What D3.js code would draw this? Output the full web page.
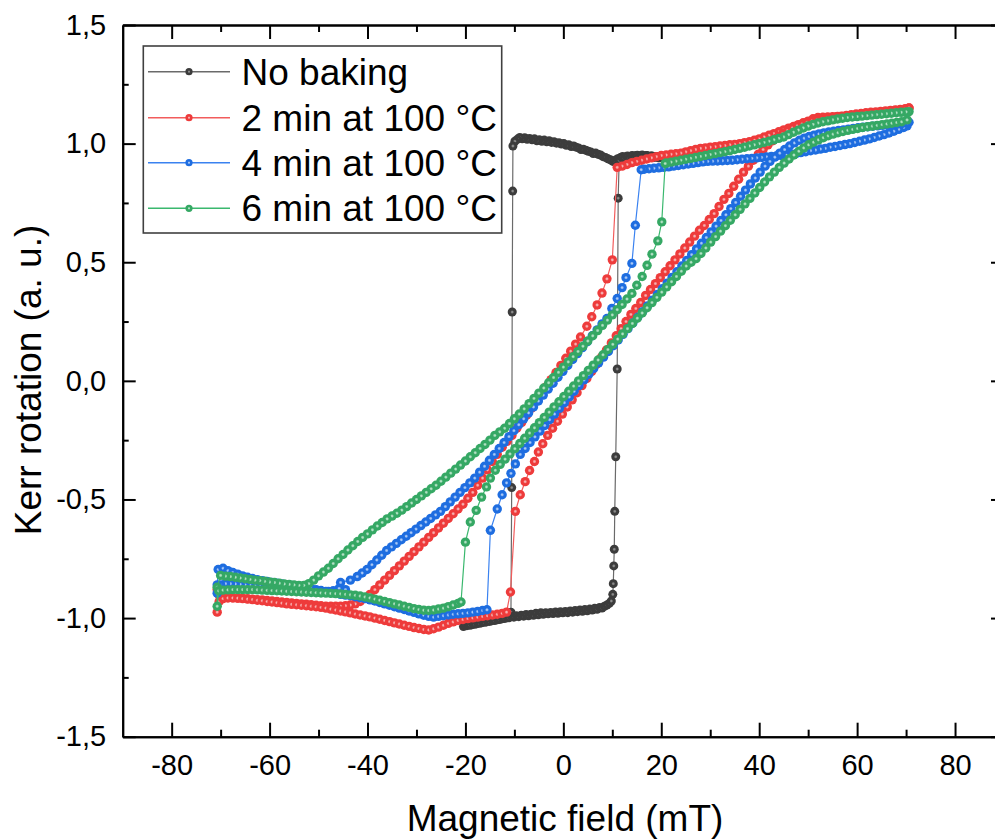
<!DOCTYPE html>
<html><head><meta charset="utf-8">
<script src="https://cdn.jsdelivr.net/npm/d3@7"></script>
<style>
html,body{margin:0;padding:0;background:#fff;}
svg text{font-family:"Liberation Sans",Arial,Helvetica,sans-serif;fill:#000;}
</style></head>
<body>
<svg id="chart" width="995" height="840"></svg>
<script>
const seriesNames = ["No baking", "2 min at 100 °C", "4 min at 100 °C", "6 min at 100 °C"];
const xTicks = [-80, -60, -40, -20, 0, 20, 40, 60, 80];
const xMinor = [-70, -50, -30, -10, 10, 30, 50, 70];
const yTicks = [-1.5, -1.0, -0.5, 0.0, 0.5, 1.0, 1.5];
const yMinor = [-1.25, -0.75, -0.25, 0.25, 0.75, 1.25];

const blackDown = [[19.6,0.94],[19.1,0.946],[18.6,0.942],[18.1,0.948],[17.6,0.944],[17.1,0.95],[16.6,0.946],[16.1,0.952],[15.6,0.947],[15.1,0.951],[14.6,0.946],[14.1,0.95],[13.6,0.944],[13.1,0.948],[12.6,0.942],[12.1,0.946],[11.6,0.94],[11.1,0.936],[10.6,0.93],[10.1,0.925],[9.6,0.932],[9.1,0.936],[8.6,0.942],[8.1,0.945],[7.6,0.952],[7.1,0.955],[6.6,0.96],[6.1,0.958],[5.6,0.965],[5.1,0.968],[4.6,0.972],[4.1,0.976],[3.6,0.975],[3.1,0.982],[2.6,0.985],[2.1,0.99],[1.6,0.988],[1.1,0.995],[0.6,0.993],[0.1,1.0],[-0.4,0.998],[-0.9,1.004],[-1.4,1.002],[-1.9,1.008],[-2.4,1.005],[-2.9,1.012],[-3.4,1.008],[-3.9,1.015],[-4.4,1.01],[-4.9,1.016],[-5.4,1.012],[-5.9,1.02],[-6.4,1.016],[-6.9,1.022],[-7.4,1.018],[-7.9,1.025],[-8.4,1.02],[-8.9,1.026],[-9.4,1.018],[-9.9,1.01],[-10.3,0.99],[-10.35,0.8],[-10.45,0.29],[-10.55,-0.45],[-10.7,-0.975],[-11.2,-0.995],[-11.7,-1.0],[-12.2,-0.996],[-12.7,-1.004],[-13.2,-1.0],[-13.7,-1.008],[-14.2,-1.004],[-14.7,-1.012],[-15.2,-1.008],[-15.7,-1.016],[-16.2,-1.012],[-16.7,-1.02],[-17.2,-1.016],[-17.7,-1.024],[-18.2,-1.02],[-18.7,-1.028],[-19.2,-1.024],[-19.7,-1.032],[-20.4,-1.036]];
const blackUp = [[-20.1,-1.03],[-19.6,-1.026],[-19.1,-1.03],[-18.6,-1.022],[-18.1,-1.026],[-17.6,-1.018],[-17.1,-1.022],[-16.6,-1.014],[-16.1,-1.018],[-15.6,-1.01],[-15.1,-1.014],[-14.6,-1.006],[-14.1,-1.01],[-13.6,-1.002],[-13.1,-1.006],[-12.6,-0.998],[-12.1,-1.002],[-11.6,-0.995],[-11.1,-0.999],[-10.6,-0.992],[-10.1,-0.996],[-9.6,-0.99],[-9.1,-0.994],[-8.6,-0.988],[-8.1,-0.992],[-7.6,-0.985],[-7.1,-0.99],[-6.6,-0.984],[-6.1,-0.988],[-5.6,-0.98],[-5.1,-0.986],[-4.6,-0.978],[-4.1,-0.984],[-3.6,-0.977],[-3.1,-0.982],[-2.6,-0.976],[-2.1,-0.981],[-1.6,-0.974],[-1.1,-0.98],[-0.6,-0.973],[-0.1,-0.978],[0.4,-0.972],[0.9,-0.977],[1.4,-0.97],[1.9,-0.975],[2.4,-0.968],[2.9,-0.973],[3.4,-0.966],[3.9,-0.971],[4.4,-0.964],[4.9,-0.969],[5.4,-0.962],[5.9,-0.966],[6.4,-0.959],[6.9,-0.963],[7.4,-0.955],[7.9,-0.958],[8.4,-0.95],[8.9,-0.945],[9.4,-0.938],[9.8,-0.928],[10.1,-0.9],[10.2,-0.855],[10.3,-0.78],[10.4,-0.71],[10.5,-0.55],[10.7,-0.32],[11,0.05],[11.2,0.77],[11.4,0.93],[11.9,0.942],[12.4,0.938],[12.9,0.945],[13.4,0.941],[13.9,0.948],[14.4,0.943],[14.9,0.95],[15.4,0.945],[15.9,0.95],[16.4,0.946],[16.9,0.95],[17.4,0.945],[17.9,0.948],[18.4,0.943],[18.9,0.946],[19.4,0.94],[19.8,0.942]];

const redDown = [[70.6,1.15],[70,1.145],[69,1.142],[68,1.14],[67,1.137],[66,1.135],[65,1.132],[64,1.13],[63,1.128],[62,1.125],[61,1.122],[60,1.12],[59,1.118],[58,1.116],[57,1.115],[56,1.114],[55,1.113],[54,1.112],[53,1.111],[52,1.11],[51,1.105],[50,1.095],[49,1.088],[48,1.08],[47,1.072],[46,1.065],[45,1.058],[44,1.05],[43,1.042],[42,1.035],[41,1.028],[40,1.02],[39,1.014],[38,1.008],[37,1.004],[36,1.0],[35,0.997],[34,0.995],[33,0.992],[32,0.99],[31,0.987],[30,0.985],[29,0.982],[28,0.98],[27,0.975],[26,0.97],[25,0.965],[24,0.96],[23,0.957],[22,0.955],[21,0.952],[20,0.95],[19,0.945],[18,0.94],[17,0.935],[16,0.93],[15,0.925],[14,0.92],[13,0.912],[12,0.905],[11,0.9],[10,0.51],[8.9,0.43],[7.9,0.37],[6.9,0.32],[5.8,0.27],[4.8,0.23],[3.5,0.185],[2.5,0.155],[1.5,0.125],[0.5,0.095],[-0.5,0.065],[-1.5,0.035],[-2.5,0.005],[-3.5,-0.025],[-4.5,-0.055],[-5.5,-0.085],[-6.5,-0.115],[-7.5,-0.145],[-8.5,-0.175],[-9.5,-0.2],[-10.5,-0.23],[-11.5,-0.255],[-12.5,-0.28],[-13.5,-0.31],[-14.5,-0.34],[-15.5,-0.375],[-16.5,-0.41],[-17.5,-0.44],[-18.5,-0.47],[-19.5,-0.495],[-20.5,-0.52],[-21.5,-0.54],[-22.5,-0.56],[-23.5,-0.58],[-24.5,-0.6],[-25.5,-0.62],[-26.5,-0.64],[-27.5,-0.66],[-28.5,-0.68],[-29.5,-0.7],[-30.5,-0.72],[-31.5,-0.74],[-32.5,-0.76],[-33.5,-0.78],[-34.5,-0.8],[-35.5,-0.82],[-36.5,-0.84],[-37.5,-0.86],[-38.5,-0.88],[-39.5,-0.9],[-40.5,-0.915],[-41.5,-0.93],[-42.5,-0.94],[-43.5,-0.945],[-44.5,-0.948],[-45.5,-0.95],[-46.5,-0.95],[-47.5,-0.95],[-48.5,-0.95],[-49.5,-0.948],[-50.5,-0.946],[-51.5,-0.944],[-52.5,-0.942],[-53.5,-0.94],[-54.5,-0.938],[-55.5,-0.936],[-56.5,-0.934],[-57.5,-0.932],[-58.5,-0.93],[-59.5,-0.928],[-60.5,-0.926],[-61.5,-0.924],[-62.5,-0.922],[-63.5,-0.92],[-64.5,-0.918],[-65.5,-0.917],[-66.5,-0.916],[-67.5,-0.915],[-68.5,-0.914],[-69.5,-0.913],[-70.4,-0.9],[-70.7,-0.88]];
const redUp = [[-70.7,-0.975],[-70.3,-0.93],[-69.5,-0.918],[-68.5,-0.915],[-67.5,-0.915],[-66.5,-0.916],[-65.5,-0.918],[-64.5,-0.92],[-63.5,-0.922],[-62.5,-0.925],[-61.5,-0.927],[-60.5,-0.93],[-59.5,-0.932],[-58.5,-0.935],[-57.5,-0.937],[-56.5,-0.94],[-55.5,-0.942],[-54.5,-0.944],[-53.5,-0.946],[-52.5,-0.948],[-51.5,-0.95],[-50.5,-0.952],[-49.5,-0.955],[-48.5,-0.958],[-47.5,-0.962],[-46.5,-0.966],[-45.5,-0.97],[-44.5,-0.974],[-43.5,-0.978],[-42.5,-0.983],[-41.5,-0.987],[-40.5,-0.991],[-39.5,-0.995],[-38.5,-1.0],[-37.5,-1.005],[-36.5,-1.01],[-35.5,-1.015],[-34.5,-1.02],[-33.5,-1.025],[-32.5,-1.03],[-31.5,-1.035],[-30.5,-1.04],[-29.5,-1.044],[-28.5,-1.048],[-27.5,-1.05],[-26.5,-1.045],[-25.5,-1.038],[-24.5,-1.03],[-23.5,-1.022],[-22.5,-1.016],[-21.5,-1.01],[-20.5,-1.006],[-19.5,-1.002],[-18.5,-0.999],[-17.5,-0.996],[-16.5,-0.993],[-15.5,-0.99],[-14.5,-0.987],[-13.5,-0.984],[-12.5,-0.98],[-11.6,-0.975],[-10.8,-0.89],[-9.8,-0.55],[-8.8,-0.48],[-7.8,-0.425],[-6.9,-0.378],[-5.9,-0.34],[-5.1,-0.3],[-4.2,-0.265],[-3.2,-0.23],[-2.2,-0.2],[-1.2,-0.17],[-0.2,-0.14],[0.8,-0.11],[1.8,-0.08],[2.8,-0.05],[3.8,-0.02],[4.8,0.01],[5.8,0.04],[6.8,0.07],[7.8,0.1],[8.8,0.13],[9.8,0.16],[10.8,0.19],[11.8,0.22],[12.8,0.25],[13.8,0.28],[14.8,0.305],[15.8,0.33],[16.8,0.36],[17.8,0.385],[18.8,0.41],[19.8,0.435],[20.8,0.46],[21.8,0.485],[22.8,0.51],[23.8,0.535],[24.8,0.56],[25.8,0.585],[26.8,0.61],[27.8,0.635],[28.8,0.655],[29.8,0.68],[30.8,0.705],[31.8,0.735],[32.8,0.765],[33.8,0.79],[34.8,0.82],[35.8,0.85],[36.8,0.88],[37.8,0.905],[38.8,0.93],[39.8,0.955],[40.8,0.975],[41.8,0.995],[42.8,1.012],[43.8,1.028],[44.8,1.042],[45.8,1.055],[46.8,1.066],[47.8,1.075],[48.8,1.083],[49.8,1.09],[50.8,1.096],[51.8,1.1],[52.8,1.104],[53.8,1.107],[54.8,1.11],[55.8,1.113],[56.8,1.116],[57.8,1.119],[58.8,1.122],[59.8,1.125],[60.8,1.127],[61.8,1.13],[62.8,1.132],[63.8,1.134],[64.8,1.136],[65.8,1.138],[66.8,1.14],[67.8,1.142],[68.8,1.144],[69.8,1.147],[70.6,1.15]];

const blueDown = [[70.6,1.09],[70.2,1.075],[69.5,1.068],[68.5,1.06],[67.5,1.052],[66.5,1.045],[65.5,1.038],[64.5,1.032],[63.5,1.026],[62.5,1.02],[61.5,1.015],[60.5,1.01],[59.5,1.005],[58.5,1.0],[57.5,0.996],[56.5,0.992],[55.5,0.988],[54.5,0.985],[53.5,0.98],[52.5,0.977],[51.5,0.973],[50.5,0.97],[49.5,0.966],[48.5,0.962],[47.5,0.958],[46.5,0.955],[45.5,0.952],[44.5,0.95],[43.5,0.948],[42.5,0.946],[41.5,0.944],[40.5,0.942],[39.5,0.94],[38.5,0.938],[37.5,0.936],[36.5,0.934],[35.5,0.932],[34.5,0.93],[33.5,0.929],[32.5,0.928],[31.5,0.927],[30.5,0.926],[29.5,0.925],[28.5,0.923],[27.5,0.92],[26.5,0.917],[25.5,0.914],[24.5,0.911],[23.5,0.908],[22.5,0.905],[21.5,0.902],[20.5,0.9],[19.5,0.898],[18.5,0.896],[17.5,0.894],[16.5,0.892],[15.9,0.89],[14.7,0.656],[14,0.495],[12.8,0.435],[12,0.393],[11,0.347],[9.9,0.305],[8.9,0.263],[7.9,0.24],[6.9,0.215],[5.9,0.19],[4.9,0.165],[3.9,0.14],[2.9,0.115],[1.9,0.09],[0.9,0.065],[-0.1,0.04],[-1.1,0.015],[-2.1,-0.01],[-3.1,-0.035],[-4.1,-0.06],[-5.1,-0.085],[-6.1,-0.11],[-7.1,-0.135],[-8.1,-0.16],[-9.1,-0.185],[-10.1,-0.21],[-11.1,-0.235],[-12.1,-0.26],[-13.1,-0.285],[-14.1,-0.31],[-15.1,-0.335],[-16.1,-0.36],[-17.1,-0.385],[-18.1,-0.41],[-19.1,-0.43],[-20.1,-0.45],[-21.1,-0.47],[-22.1,-0.49],[-23.1,-0.51],[-24.1,-0.53],[-25.1,-0.55],[-26.1,-0.565],[-27.1,-0.58],[-28.1,-0.595],[-29.1,-0.61],[-30.1,-0.625],[-31.1,-0.64],[-32.1,-0.655],[-33.1,-0.67],[-34.1,-0.685],[-35.1,-0.7],[-36.1,-0.715],[-37.1,-0.735],[-38.1,-0.755],[-39.1,-0.775],[-40.1,-0.795],[-41.1,-0.81],[-42.1,-0.825],[-43.5,-0.84],[-45.5,-0.85],[-44.5,-0.88],[-45.8,-0.875],[-47,-0.885],[-48,-0.888],[-49,-0.89],[-50,-0.89],[-51,-0.888],[-52,-0.886],[-53,-0.884],[-54,-0.882],[-55,-0.88],[-56,-0.878],[-57,-0.876],[-58,-0.874],[-59,-0.872],[-60,-0.87],[-61,-0.868],[-62,-0.866],[-63,-0.864],[-64,-0.862],[-65,-0.86],[-66,-0.858],[-67,-0.856],[-68,-0.855],[-69,-0.855],[-70,-0.86],[-70.7,-0.895]];
const blueUp = [[-70.7,-0.86],[-70.5,-0.795],[-69.5,-0.79],[-68.5,-0.8],[-67.5,-0.808],[-66.5,-0.815],[-65.5,-0.822],[-64.5,-0.828],[-63.5,-0.833],[-62.5,-0.838],[-61.5,-0.842],[-60.5,-0.846],[-59.5,-0.85],[-58.5,-0.853],[-57.5,-0.856],[-56.5,-0.859],[-55.5,-0.862],[-54.5,-0.865],[-53.5,-0.868],[-52.5,-0.872],[-51.5,-0.876],[-50.5,-0.88],[-49.5,-0.884],[-48.5,-0.888],[-47.5,-0.892],[-46.5,-0.896],[-45.5,-0.9],[-44.5,-0.903],[-43.5,-0.906],[-42.5,-0.91],[-41.5,-0.914],[-40.5,-0.918],[-39.5,-0.923],[-38.5,-0.928],[-37.5,-0.934],[-36.5,-0.94],[-35.5,-0.946],[-34.5,-0.952],[-33.5,-0.958],[-32.5,-0.964],[-31.5,-0.97],[-30.5,-0.976],[-29.5,-0.982],[-28.5,-0.988],[-27.5,-0.993],[-26.5,-0.996],[-25.5,-0.993],[-24.5,-0.99],[-23.5,-0.987],[-22.5,-0.984],[-21.5,-0.982],[-20.5,-0.98],[-19.5,-0.978],[-18.5,-0.975],[-17.5,-0.972],[-16.5,-0.968],[-15.6,-0.965],[-14.9,-0.63],[-13.5,-0.54],[-12.5,-0.48],[-11.6,-0.43],[-10.7,-0.39],[-9.8,-0.35],[-8.8,-0.31],[-7.8,-0.285],[-6.8,-0.26],[-5.8,-0.236],[-4.8,-0.212],[-3.8,-0.188],[-2.8,-0.164],[-1.8,-0.14],[-0.8,-0.116],[0.2,-0.092],[1.2,-0.068],[2.2,-0.044],[3.2,-0.02],[4.2,0.004],[5.2,0.028],[6.2,0.052],[7.2,0.076],[8.2,0.1],[9.2,0.124],[10.2,0.148],[11.2,0.172],[12.2,0.196],[13.2,0.22],[14.2,0.244],[15.2,0.268],[16.2,0.292],[17.2,0.316],[18.2,0.34],[19.2,0.364],[20.2,0.388],[21.2,0.412],[22.2,0.436],[23.2,0.46],[24.2,0.484],[25.2,0.508],[26.2,0.532],[27.2,0.556],[28.2,0.58],[29.2,0.604],[30.2,0.628],[31.2,0.652],[32.2,0.676],[33.2,0.7],[34.2,0.726],[35.2,0.752],[36.2,0.778],[37.2,0.804],[38.2,0.83],[39.2,0.855],[40.2,0.88],[41.2,0.905],[42.2,0.925],[43.2,0.943],[44.2,0.96],[45.2,0.975],[46.2,0.99],[47.2,1.003],[48.2,1.014],[49.2,1.023],[50.2,1.03],[51.2,1.036],[52.2,1.041],[53.2,1.045],[54.2,1.049],[55.2,1.052],[56.2,1.055],[57.2,1.058],[58.2,1.061],[59.2,1.064],[60.2,1.067],[61.2,1.069],[62.2,1.071],[63.2,1.073],[64.2,1.075],[65.2,1.077],[66.2,1.079],[67.2,1.081],[68.2,1.083],[69.2,1.085],[70.3,1.088]];

const greenDown = [[70.6,1.135],[70,1.134],[69,1.132],[68,1.13],[67,1.128],[66,1.126],[65,1.124],[64,1.122],[63,1.12],[62,1.118],[61,1.116],[60,1.114],[59,1.112],[58,1.11],[57,1.107],[56,1.104],[55,1.1],[54,1.096],[53,1.092],[52,1.087],[51,1.081],[50,1.074],[49,1.066],[48,1.057],[47,1.048],[46,1.038],[45,1.028],[44,1.022],[43,1.016],[42,1.01],[41,1.005],[40,1.0],[39,0.995],[38,0.99],[37,0.985],[36,0.98],[35,0.975],[34,0.97],[33,0.966],[32,0.962],[31,0.958],[30,0.954],[29,0.95],[28,0.946],[27,0.942],[26,0.938],[25,0.934],[24,0.93],[23,0.926],[22,0.922],[21,0.918],[20.8,0.916],[20.1,0.67],[19.3,0.59],[18.1,0.534],[17.1,0.487],[16.1,0.44],[15,0.403],[14,0.368],[13,0.345],[12,0.322],[11,0.3],[10,0.278],[9,0.256],[8,0.234],[7,0.212],[6,0.19],[5,0.168],[4,0.146],[3,0.124],[2,0.102],[1,0.08],[0,0.058],[-1,0.036],[-2,0.014],[-3,-0.008],[-4,-0.03],[-5,-0.052],[-6,-0.074],[-7,-0.096],[-8,-0.118],[-9,-0.14],[-10,-0.16],[-11,-0.18],[-12,-0.2],[-13,-0.215],[-14,-0.23],[-15,-0.25],[-16,-0.268],[-17,-0.285],[-18,-0.303],[-19,-0.32],[-20,-0.338],[-21,-0.355],[-22,-0.372],[-23,-0.389],[-24,-0.406],[-25,-0.423],[-26,-0.44],[-27,-0.455],[-28,-0.47],[-29,-0.485],[-30,-0.5],[-31,-0.515],[-32,-0.53],[-33,-0.545],[-34,-0.558],[-35,-0.57],[-36,-0.582],[-37,-0.597],[-38,-0.612],[-39,-0.628],[-40,-0.645],[-41,-0.66],[-42,-0.677],[-43,-0.695],[-44,-0.713],[-45,-0.732],[-46,-0.75],[-47,-0.77],[-48,-0.79],[-49,-0.806],[-50,-0.822],[-51,-0.84],[-52,-0.855],[-53,-0.862],[-54,-0.862],[-55,-0.86],[-56,-0.858],[-57,-0.856],[-58,-0.853],[-59,-0.85],[-60,-0.848],[-61,-0.845],[-62,-0.842],[-63,-0.84],[-64,-0.837],[-65,-0.834],[-66,-0.831],[-67,-0.828],[-68,-0.825],[-69,-0.823],[-70,-0.82],[-70.7,-0.87]];
const greenUp = [[-70.7,-0.95],[-70.4,-0.885],[-69.5,-0.882],[-68.5,-0.881],[-67.5,-0.88],[-66.5,-0.88],[-65.5,-0.88],[-64.5,-0.88],[-63.5,-0.88],[-62.5,-0.881],[-61.5,-0.882],[-60.5,-0.883],[-59.5,-0.884],[-58.5,-0.885],[-57.5,-0.886],[-56.5,-0.887],[-55.5,-0.888],[-54.5,-0.889],[-53.5,-0.89],[-52.5,-0.891],[-51.5,-0.892],[-50.5,-0.893],[-49.5,-0.894],[-48.5,-0.895],[-47.5,-0.896],[-46.5,-0.897],[-45.5,-0.898],[-44.5,-0.9],[-43.5,-0.902],[-42.5,-0.904],[-41.5,-0.907],[-40.5,-0.911],[-39.5,-0.915],[-38.5,-0.92],[-37.5,-0.925],[-36.5,-0.93],[-35.5,-0.935],[-34.5,-0.94],[-33.5,-0.945],[-32.5,-0.95],[-31.5,-0.955],[-30.5,-0.96],[-29.5,-0.964],[-28.5,-0.967],[-27.5,-0.968],[-26.5,-0.966],[-25.5,-0.962],[-24.5,-0.958],[-23.5,-0.952],[-22.5,-0.945],[-21.5,-0.938],[-20.9,-0.932],[-20,-0.68],[-19,-0.595],[-17.8,-0.546],[-16.7,-0.49],[-15.7,-0.447],[-14.9,-0.41],[-13.9,-0.377],[-12.9,-0.352],[-11.9,-0.33],[-10.9,-0.308],[-9.9,-0.286],[-8.9,-0.264],[-7.9,-0.242],[-6.9,-0.22],[-5.9,-0.198],[-4.9,-0.176],[-3.9,-0.154],[-2.9,-0.132],[-1.9,-0.11],[-0.9,-0.088],[0.1,-0.066],[1.1,-0.044],[2.1,-0.022],[3.1,0.0],[4.1,0.022],[5.1,0.044],[6.1,0.066],[7.1,0.088],[8.1,0.11],[9.1,0.132],[10.1,0.154],[11.1,0.176],[12.1,0.198],[13.1,0.22],[14.1,0.242],[15.1,0.264],[16.1,0.286],[17.1,0.308],[18.1,0.33],[19.1,0.352],[20.1,0.374],[21.1,0.396],[22.1,0.418],[23.1,0.44],[24.1,0.462],[25.1,0.484],[26.1,0.5],[27.1,0.515],[28.1,0.537],[29.1,0.56],[30.1,0.585],[31.1,0.608],[32.1,0.631],[33.1,0.654],[34.1,0.677],[35.1,0.7],[36.1,0.723],[37.1,0.746],[38.1,0.769],[39.1,0.792],[40.1,0.815],[41.1,0.838],[42.1,0.86],[43.1,0.88],[44.1,0.9],[45.1,0.918],[46.1,0.935],[47.1,0.952],[48.1,0.968],[49.1,0.982],[50.1,0.995],[51.1,1.006],[52.1,1.016],[53.1,1.025],[54.1,1.033],[55.1,1.04],[56.1,1.046],[57.1,1.051],[58.1,1.056],[59.1,1.06],[60.1,1.064],[61.1,1.068],[62.1,1.071],[63.1,1.074],[64.1,1.077],[65.1,1.08],[66.1,1.083],[67.1,1.086],[68.1,1.089],[69.1,1.092],[70.2,1.1]];

const markerColors = ["#3c3c3c", "#ee3b3b", "#1e6de0", "#35a864"];
const lineColors = ["#6a6a6a", "#f25c5c", "#3a82f0", "#3ab86e"];
const centerColors = ["#8c8c8c", "#f6b0b0", "#a9c8f5", "#b2e0c4"];

const series = [
  {name: seriesNames[0], pts: blackDown.concat(blackUp), r: 4.5},
  {name: seriesNames[1], pts: redDown.concat(redUp), r: 4.7},
  {name: seriesNames[2], pts: blueDown.concat(blueUp), r: 4.7},
  {name: seriesNames[3], pts: greenDown.concat(greenUp), r: 4.7}
];

const svg = d3.select("#chart");
const font = '"Liberation Sans",Arial,Helvetica,sans-serif';

const x = d3.scaleLinear().domain([-90, 90]).range([122.7, 1004]);
const y = d3.scaleLinear().domain([-1.5, 1.5]).range([736.7, 25]);

const defs = svg.append("defs");
markerColors.forEach((c, i) => {
  const g = defs.append("radialGradient").attr("id", "ball" + i)
    .attr("cx", "50%").attr("cy", "50%").attr("r", "50%");
  g.append("stop").attr("offset", "0%").attr("stop-color", centerColors[i]);
  g.append("stop").attr("offset", "14%").attr("stop-color", centerColors[i]);
  g.append("stop").attr("offset", "42%").attr("stop-color", c);
  g.append("stop").attr("offset", "100%").attr("stop-color", c);
});
defs.append("clipPath").attr("id", "plotclip").append("rect")
  .attr("x", 122.7).attr("y", 25).attr("width", 1004 - 122.7).attr("height", 736.7 - 25);

// data
const plot = svg.append("g").attr("clip-path", "url(#plotclip)");
const line = d3.line().x(d => x(d[0])).y(d => y(d[1]));
series.forEach((s, i) => {
  const g = plot.append("g");
  g.append("path").attr("d", line(s.pts)).attr("fill", "none")
    .attr("stroke", lineColors[i]).attr("stroke-width", 1.2);
  g.selectAll("circle").data(s.pts).join("circle")
    .attr("cx", d => x(d[0])).attr("cy", d => y(d[1])).attr("r", s.r)
    .attr("fill", "url(#ball" + i + ")");
});

// axes
const yFmt = d => d.toFixed(1).replace(".", ",");
const xFmt = d => String(d);

function styleAxis(g) {
  g.select(".domain").attr("stroke", "#000").attr("stroke-width", 2);
  g.selectAll(".tick line").attr("stroke", "#000").attr("stroke-width", 2);
  g.selectAll(".tick text").style("font-family", font).style("font-size", "29px").attr("fill", "#000");
}

svg.append("g").attr("transform", "translate(0,736.7)")
  .call(d3.axisBottom(x).tickValues(xTicks).tickFormat(xFmt).tickSize(-14).tickSizeOuter(0).tickPadding(17.5))
  .call(styleAxis);
svg.append("g").attr("transform", "translate(0,736.7)")
  .call(d3.axisBottom(x).tickValues(xMinor).tickFormat("").tickSize(-7).tickSizeOuter(0))
  .call(styleAxis);
svg.append("g").attr("transform", "translate(0,25)")
  .call(d3.axisTop(x).tickValues(xTicks).tickFormat("").tickSize(-14).tickSizeOuter(0))
  .call(styleAxis);
svg.append("g").attr("transform", "translate(0,25)")
  .call(d3.axisTop(x).tickValues(xMinor).tickFormat("").tickSize(-7).tickSizeOuter(0))
  .call(styleAxis);
svg.append("g").attr("transform", "translate(122.7,0)")
  .call(d3.axisLeft(y).tickValues(yTicks).tickFormat(yFmt).tickSize(-13).tickSizeOuter(0).tickPadding(16.5))
  .call(styleAxis);
svg.append("g").attr("transform", "translate(122.7,0)")
  .call(d3.axisLeft(y).tickValues(yMinor).tickFormat("").tickSize(-6).tickSizeOuter(0))
  .call(styleAxis);
svg.append("g").attr("transform", "translate(1004,0)")
  .call(d3.axisRight(y).tickValues(yTicks).tickFormat("").tickSize(-13).tickSizeOuter(0))
  .call(styleAxis);
svg.append("g").attr("transform", "translate(1004,0)")
  .call(d3.axisRight(y).tickValues(yMinor).tickFormat("").tickSize(-6).tickSizeOuter(0))
  .call(styleAxis);

// axis titles
svg.append("text").attr("x", 565).attr("y", 831).attr("text-anchor", "middle")
  .style("font-size", "37px").text("Magnetic field (mT)");
svg.append("text").attr("transform", "translate(41,380) rotate(-90)").attr("text-anchor", "middle")
  .style("font-size", "37px").text("Kerr rotation (a. u.)");

// legend
const leg = svg.append("g");
leg.append("rect").attr("x", 143.3).attr("y", 46).attr("width", 358.4).attr("height", 187)
  .attr("fill", "#fff").attr("stroke", "#404040").attr("stroke-width", 1.6);
const rowY = [71.7, 117.7, 162.7, 208.3];
series.forEach((s, i) => {
  leg.append("line").attr("x1", 148).attr("x2", 230).attr("y1", rowY[i]).attr("y2", rowY[i])
    .attr("stroke", lineColors[i]).attr("stroke-width", 1.6);
  leg.append("circle").attr("cx", 189).attr("cy", rowY[i]).attr("r", 3.6)
    .attr("fill", "url(#ball" + i + ")");
  leg.append("text").attr("x", 241.5).attr("y", rowY[i] + 12.8)
    .style("font-size", "37px").text(s.name);
});
</script>
</body></html>
